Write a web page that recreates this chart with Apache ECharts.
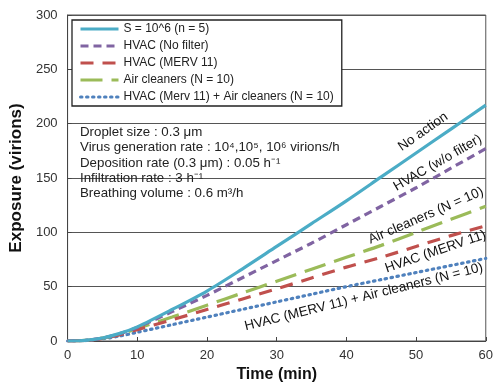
<!DOCTYPE html>
<html><head><meta charset="utf-8">
<script src="https://cdn.jsdelivr.net/npm/echarts@6/dist/echarts.min.js"></script>
<style>html,body{margin:0;padding:0;background:#fff}#c{width:496px;height:388px}</style>
</head><body><div id="c"></div>
<script>
var times = [0, 2.5, 5, 7.5, 10, 15, 20, 25, 30, 35, 40, 45, 50, 55, 60];
var noAction   = [0, 0.6, 2.8, 7, 13, 29, 46, 66, 87, 108, 129, 151, 173, 195, 217];
var hvacNoFilt = [0, 0.6, 2.7, 6.8, 12.5, 27, 42, 58, 74, 90, 107, 124, 141, 159, 177];
var hvacMerv   = [0, 0.5, 2.4, 5.8, 10.5, 19.5, 29, 38.5, 48, 58, 68, 77, 87, 97, 106];
var airClean   = [0, 0.55, 2.6, 6.3, 11.5, 22, 33, 44, 55, 66, 77, 88, 100, 112, 124];
var hvacAirCl  = [0, 0.4, 2, 4.6, 8, 15, 22, 29, 36, 43, 50, 56.5, 63, 69.5, 76];
var seriesNames = ['S = 10^6 (n = 5)', 'HVAC (No filter)', 'HVAC (MERV 11)', 'Air cleaners (N = 10)', 'HVAC (Merv 11) + Air cleaners (N = 10)'];
var xTicks = [0, 10, 20, 30, 40, 50, 60];
var yTicks = [0, 50, 100, 150, 200, 250, 300];
var curveLabels = [
  {text: 'No action', t: 51, v: 192.5, angle: 35},
  {text: 'HVAC (w/o filter)', t: 53.1, v: 163.8, angle: 30},
  {text: 'Air cleaners (N = 10)', t: 51.4, v: 115.3, angle: 23.5},
  {text: 'HVAC (MERV 11)', t: 52.8, v: 82.2, angle: 19},
  {text: 'HVAC (MERV 11) + Air cleaners (N = 10)', t: 42.5, v: 40.5, angle: 14}
];
var infoLines = ['Droplet size : 0.3 \u03bcm',
  'Virus generation rate : 10\u2074,10\u2075, 10\u2076 virions/h',
  'Deposition rate (0.3 \u03bcm) : 0.05 h\u207b\u00b9',
  'Infiltration rate : 3 h\u207b\u00b9',
  'Breathing volume : 0.6 m\u00b3/h'];

function pairs(arr){ return times.map(function(t,i){ return [t, arr[i]]; }); }
var FONT = '"Liberation Sans", Arial, sans-serif';
var chart = echarts.init(document.getElementById('c'));
var styles = [
  {color:'#4bacc6', type:'solid', width:3.2},
  {color:'#8064a2', type:[8,5], width:3.2},
  {color:'#c0504d', type:[13,9], width:3.2},
  {color:'#9bbb59', type:[22,9], width:3.2},
  {color:'#4f81bd', type:[1.5,4.5], width:3.2, cap:'round'}
];
var datas = [noAction, hvacNoFilt, hvacMerv, airClean, hvacAirCl];
var order = [0,1,3,2,4];
chart.setOption({
  animation:false,
  textStyle:{fontFamily:FONT},
  grid:{left:66, right:7, top:15, bottom:47, show:true, borderColor:'#555', borderWidth:1},
  legend:{
    data: seriesNames, orient:'vertical', left:72, top:20,
    padding:[3,8,3,7], itemWidth:38, itemHeight:14, itemGap:5,
    backgroundColor:'#fff', borderColor:'#222', borderWidth:1.3,
    itemStyle:{opacity:0},
    lineStyle:{width:3},
    textStyle:{fontSize:12, color:'#222', fontFamily:FONT}
  },
  xAxis:{type:'value', min:0, max:60, interval:10,
    name:'Time (min)', nameLocation:'middle', nameGap:23,
    nameTextStyle:{fontSize:16, color:'#111', fontWeight:'bold'},
    axisLine:{lineStyle:{color:'#444'}}, axisTick:{inside:true, length:4, lineStyle:{color:'#444'}},
    axisLabel:{fontSize:13, color:'#333', margin:8}, splitLine:{show:false}},
  yAxis:{type:'value', min:0, max:300, interval:50,
    name:'Exposure (virions)', nameLocation:'middle', nameGap:30,
    nameTextStyle:{fontSize:17, color:'#111', fontWeight:'bold'},
    axisLine:{show:true, lineStyle:{color:'#444'}}, axisTick:{show:true, inside:true, length:4, lineStyle:{color:'#444'}},
    axisLabel:{fontSize:13, color:'#333', margin:10},
    splitLine:{lineStyle:{color:'#555', width:1}}},
  series: order.map(function(i){
    var s = styles[i];
    return {name:seriesNames[i], type:'line', data:pairs(datas[i]), smooth:0.3, symbol:'none',
      lineStyle:{color:s.color, type:s.type, width:s.width, cap:s.cap||'butt'},
      itemStyle:{color:s.color}, z: 5-i};
  })
});
function drawLabels(){
  var els = curveLabels.map(function(l){
    var p = chart.convertToPixel({gridIndex:0}, [l.t, l.v]);
    return {type:'text', x:p[0], y:p[1], rotation:l.angle*Math.PI/180,
      style:{text:l.text, fill:'#111', font:'13.5px '+FONT, align:'center', verticalAlign:'middle'}, z:10};
  });
  infoLines.forEach(function(t,k){
    els.push({type:'text', left:80, top:126 + k*15.2, style:{text:t, font:'13.3px '+FONT, fill:'#222'}, z:10});
  });
  chart.setOption({graphic:els});
}
drawLabels();
</script></body></html>
